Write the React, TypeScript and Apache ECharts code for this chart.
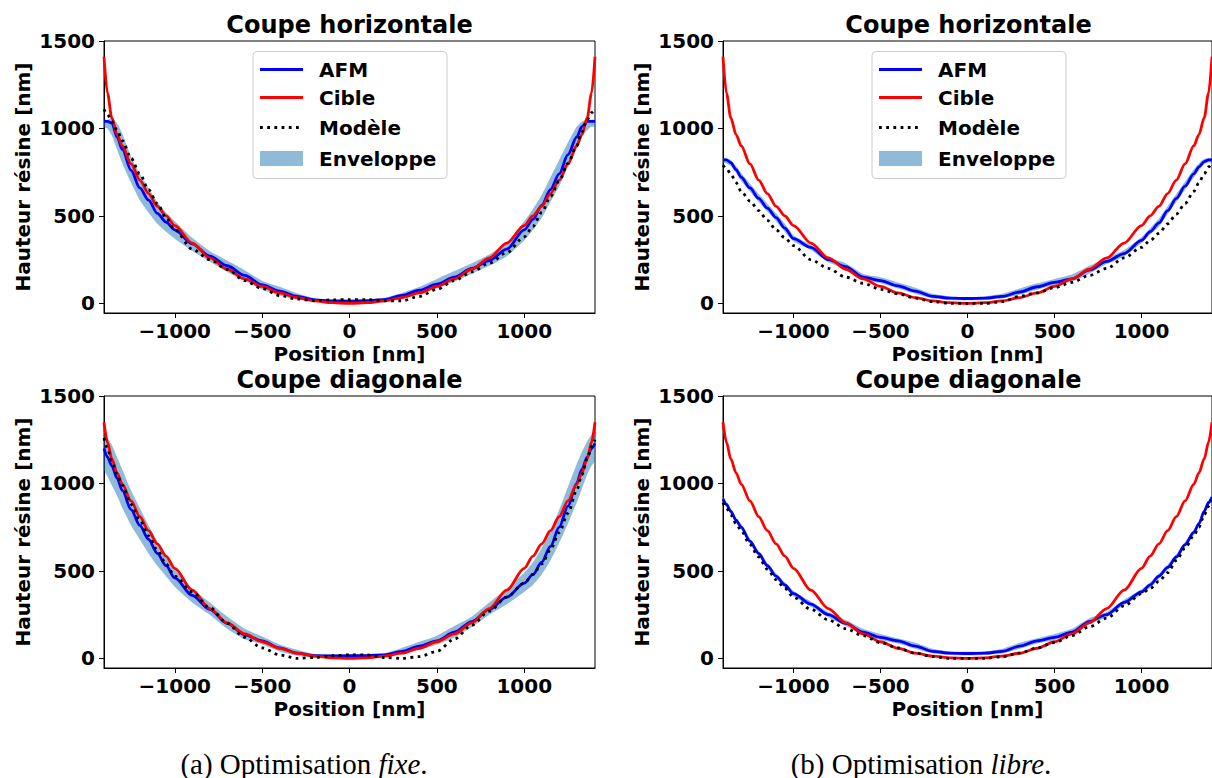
import React, { useEffect, useRef } from "react";
import * as echarts from "echarts";

// Positions along the cut [nm]
const X = [-1405, -1385, -1360, -1330, -1300, -1250, -1200, -1150, -1100, -1050, -1000, -900, -800, -700, -600, -500, -400, -300, -200, -100, 0, 100, 200, 300, 400, 500, 600, 700, 800, 900, 1000, 1050, 1100, 1150, 1200, 1250, 1300, 1330, 1360, 1385, 1405];

// Target profiles
const CIBLE_H = [1410, 1200, 1060, 965, 900, 797, 705, 628, 555, 500, 445, 345, 260, 195, 140, 97, 60, 33, 14, 4, 0, 4, 14, 33, 60, 97, 140, 195, 260, 345, 445, 500, 555, 628, 705, 797, 900, 965, 1060, 1200, 1410];
const CIBLE_D = [1350, 1235, 1140, 1060, 995, 900, 810, 730, 655, 585, 515, 390, 285, 203, 140, 95, 58, 30, 13, 3, 0, 3, 13, 30, 58, 95, 140, 203, 285, 390, 515, 585, 655, 730, 810, 900, 995, 1060, 1140, 1235, 1350];

// (a) fixe, horizontal
const AFM_FIXE_H = [1040, 1040, 1030, 950, 880, 760, 660, 590, 515, 465, 420, 340, 270, 215, 160, 105, 70, 40, 20, 14, 13, 15, 22, 45, 75, 110, 150, 200, 245, 310, 420, 480, 560, 650, 740, 850, 950, 1010, 1040, 1040, 1040];
const MOD_FIXE_H = [1110, 1080, 1040, 990, 930, 830, 740, 650, 570, 490, 420, 310, 250, 195, 130, 85, 45, 25, 15, 20, 22, 22, 15, 15, 40, 80, 130, 180, 230, 290, 380, 440, 520, 610, 700, 800, 900, 980, 1050, 1090, 1110];
const ENV_LO_FIXE_H = [1010, 1000, 960, 880, 800, 690, 590, 520, 455, 410, 370, 300, 240, 180, 130, 80, 45, 22, 10, 8, 8, 8, 12, 28, 55, 85, 125, 170, 215, 270, 360, 420, 490, 580, 670, 780, 880, 950, 990, 1010, 1010];
const ENV_HI_FIXE_H = [1050, 1050, 1060, 1030, 970, 840, 740, 660, 580, 520, 470, 375, 300, 245, 190, 130, 95, 58, 30, 22, 20, 22, 32, 60, 95, 140, 185, 230, 280, 345, 470, 540, 620, 720, 820, 920, 1010, 1040, 1050, 1050, 1050];

// (b) libre, horizontal
const AFM_LIBRE_H = [820, 820, 805, 765, 720, 660, 600, 545, 490, 430, 370, 320, 250, 210, 150, 130, 100, 70, 40, 30, 28, 30, 40, 65, 95, 120, 140, 190, 240, 285, 360, 410, 460, 530, 600, 670, 740, 780, 810, 820, 820];
const MOD_LIBRE_H = [790, 770, 740, 690, 640, 585, 530, 475, 420, 375, 330, 250, 200, 150, 115, 80, 55, 30, 10, 0, 0, 0, 10, 40, 60, 90, 120, 160, 200, 260, 320, 360, 400, 455, 510, 570, 640, 690, 740, 780, 800];
const ENV_LO_LIBRE_H = [805, 800, 785, 745, 700, 640, 580, 525, 470, 410, 355, 305, 235, 195, 135, 115, 85, 55, 28, 20, 18, 20, 28, 50, 78, 105, 125, 170, 225, 270, 345, 395, 440, 510, 580, 650, 720, 760, 795, 805, 805];
const ENV_HI_LIBRE_H = [830, 830, 820, 785, 745, 685, 625, 570, 515, 455, 390, 335, 265, 230, 170, 150, 120, 90, 55, 40, 36, 40, 55, 85, 115, 140, 165, 215, 260, 305, 380, 430, 485, 555, 625, 695, 765, 800, 825, 830, 830];

// (a) fixe, diagonal
const AFM_FIXE_D = [1200, 1150, 1100, 1030, 960, 850, 760, 680, 600, 530, 460, 360, 280, 200, 135, 100, 60, 30, 15, 14, 15, 16, 20, 40, 70, 100, 150, 210, 280, 350, 430, 480, 550, 640, 750, 870, 1000, 1080, 1150, 1200, 1230];
const MOD_FIXE_D = [1260, 1200, 1130, 1050, 990, 880, 790, 700, 620, 540, 470, 380, 290, 200, 120, 60, 20, 0, 5, 15, 20, 20, 5, 0, 10, 40, 110, 190, 270, 350, 430, 480, 540, 620, 720, 830, 960, 1050, 1140, 1210, 1250];
const ENV_LO_FIXE_D = [1080, 1040, 990, 930, 860, 760, 680, 600, 530, 470, 410, 320, 250, 170, 110, 80, 40, 15, 5, 5, 5, 8, 12, 25, 50, 80, 120, 180, 250, 310, 380, 420, 480, 560, 660, 770, 890, 970, 1050, 1100, 1130];
const ENV_HI_FIXE_D = [1280, 1260, 1220, 1150, 1080, 960, 860, 760, 670, 590, 510, 400, 320, 240, 170, 125, 80, 50, 25, 22, 22, 24, 30, 60, 95, 130, 185, 240, 320, 400, 490, 550, 630, 730, 850, 980, 1110, 1180, 1240, 1280, 1300];

// (b) libre, diagonal
const AFM_LIBRE_D = [910, 880, 840, 790, 750, 670, 600, 530, 470, 420, 370, 310, 250, 200, 150, 120, 100, 70, 40, 30, 28, 30, 40, 70, 100, 120, 150, 210, 250, 320, 380, 420, 470, 520, 580, 650, 720, 770, 840, 890, 920];
const MOD_LIBRE_D = [890, 860, 820, 770, 730, 650, 580, 510, 450, 400, 350, 280, 220, 170, 130, 90, 60, 30, 10, 0, 0, 0, 10, 30, 60, 90, 130, 180, 230, 300, 370, 400, 440, 490, 560, 630, 700, 750, 820, 870, 900];
const ENV_LO_LIBRE_D = [895, 865, 825, 775, 735, 655, 585, 515, 455, 405, 355, 295, 235, 185, 135, 105, 85, 55, 28, 20, 18, 20, 28, 55, 85, 105, 135, 195, 235, 305, 365, 405, 455, 505, 565, 635, 705, 755, 825, 875, 905];
const ENV_HI_LIBRE_D = [925, 895, 855, 805, 765, 685, 615, 545, 485, 435, 385, 325, 265, 220, 170, 140, 115, 90, 55, 40, 38, 40, 55, 90, 115, 140, 170, 230, 265, 335, 395, 435, 485, 535, 595, 665, 735, 785, 855, 905, 935];

const X_TICKS = [-1000, -500, 0, 500, 1000];
const Y_TICKS = [0, 500, 1000, 1500];
const TITLES = ["Coupe horizontale", "Coupe horizontale", "Coupe diagonale", "Coupe diagonale"];
const LEGEND_LABELS = ["AFM", "Cible", "Modèle", "Enveloppe"];
const X_NAME = "Position [nm]";
const Y_NAME = "Hauteur résine [nm]";

const FONT = "DejaVu Sans";
const BLUE = "#0000ff";
const RED = "#ff0000";
const BAND = "rgba(31,119,180,0.5)";

const PANELS = [
  { left: 104, top: 41, afm: AFM_FIXE_H, cible: CIBLE_H, mod: MOD_FIXE_H, lo: ENV_LO_FIXE_H, hi: ENV_HI_FIXE_H, legend: true },
  { left: 723, top: 41, afm: AFM_LIBRE_H, cible: CIBLE_H, mod: MOD_LIBRE_H, lo: ENV_LO_LIBRE_H, hi: ENV_HI_LIBRE_H, legend: true },
  { left: 104, top: 396, afm: AFM_FIXE_D, cible: CIBLE_D, mod: MOD_FIXE_D, lo: ENV_LO_FIXE_D, hi: ENV_HI_FIXE_D, legend: false },
  { left: 723, top: 396, afm: AFM_LIBRE_D, cible: CIBLE_D, mod: MOD_LIBRE_D, lo: ENV_LO_LIBRE_D, hi: ENV_HI_LIBRE_D, legend: false },
];
const PW = 491;
const PH = 272;

const fmtMinus = (v: number) => (v < 0 ? "\u2212" + Math.abs(v) : String(v));

function buildOption() {
  const grid: any[] = [];
  const xAxis: any[] = [];
  const yAxis: any[] = [];
  const series: any[] = [];
  const title: any[] = [];
  const graphic: any[] = [];

  PANELS.forEach((p, i) => {
    grid.push({
      left: p.left,
      top: p.top,
      width: PW,
      height: PH,
      show: true,
      borderColor: "#000",
      borderWidth: 1,
      backgroundColor: "transparent",
    });
    xAxis.push({
      type: "value",
      gridIndex: i,
      min: -1405,
      max: 1405,
      name: X_NAME,
      nameLocation: "middle",
      nameGap: 31,
      nameTextStyle: { fontFamily: FONT, fontWeight: "bold", fontSize: 20, color: "#000" },
      axisLine: { show: true, onZero: false, lineStyle: { color: "#000", width: 1 } },
      axisTick: { show: true, inside: false, length: 5, customValues: X_TICKS, lineStyle: { color: "#000", width: 1 } },
      axisLabel: {
        customValues: X_TICKS,
        formatter: fmtMinus,
        margin: 8,
        fontFamily: FONT,
        fontWeight: "bold",
        fontSize: 20,
        color: "#000",
      },
      splitLine: { show: false },
    });
    yAxis.push({
      type: "value",
      gridIndex: i,
      min: -55,
      max: 1500,
      name: Y_NAME,
      nameLocation: "middle",
      nameGap: 71,
      nameTextStyle: { fontFamily: FONT, fontWeight: "bold", fontSize: 20, color: "#000" },
      axisLine: { show: true, onZero: false, lineStyle: { color: "#000", width: 1 } },
      axisTick: { show: true, inside: false, length: 5, customValues: Y_TICKS, lineStyle: { color: "#000", width: 1 } },
      axisLabel: {
        customValues: Y_TICKS,
        formatter: (v: number) => String(v),
        margin: 9,
        fontFamily: FONT,
        fontWeight: "bold",
        fontSize: 20,
        color: "#000",
      },
      splitLine: { show: false },
    });

    const lo = p.lo;
    const hi = p.hi;
    series.push({
      type: "custom",
      name: LEGEND_LABELS[3],
      xAxisIndex: i,
      yAxisIndex: i,
      clip: true,
      silent: true,
      data: [[0, 0]],
      renderItem: (params: any, api: any) => {
        if (params.dataIndex !== 0) return null;
        const pts: number[][] = [];
        for (let j = 0; j < X.length; j++) pts.push(api.coord([X[j], hi[j]]));
        for (let j = X.length - 1; j >= 0; j--) pts.push(api.coord([X[j], lo[j]]));
        return { type: "polygon", shape: { points: pts, smooth: 0.2 }, style: { fill: BAND } };
      },
      z: 1,
    });
    const line = (name: string, arr: number[], color: string, type: any, z: number) => ({
      type: "line",
      name,
      xAxisIndex: i,
      yAxisIndex: i,
      data: X.map((x, j) => [x, arr[j]]),
      showSymbol: false,
      symbol: "none",
      smooth: 0.3,
      smoothMonotone: "x",
      clip: true,
      lineStyle: { color, width: 2.8, type, cap: "butt" },
      z,
    });
    series.push(line(LEGEND_LABELS[0], p.afm, BLUE, "solid", 2));
    series.push(line(LEGEND_LABELS[1], p.cible, RED, "solid", 3));
    series.push(line(LEGEND_LABELS[2], p.mod, "#000", [2.8, 4.4], 4));

    title.push({
      text: TITLES[i],
      left: p.left + PW / 2,
      top: p.top - 28,
      textAlign: "center",
      padding: 0,
      textStyle: { fontFamily: FONT, fontWeight: "bold", fontSize: 24, color: "#000" },
    });

    if (p.legend) {
      const lx = p.left + PW / 2 - 97;
      const ly = p.top + 10;
      const rows = [18, 46, 76, 107];
      const children: any[] = [
        {
          type: "rect",
          shape: { x: 0, y: 0, width: 194, height: 127, r: 4 },
          style: { fill: "rgba(255,255,255,0.8)", stroke: "#cccccc", lineWidth: 1 },
        },
        { type: "line", shape: { x1: 7, y1: rows[0], x2: 50, y2: rows[0] }, style: { stroke: BLUE, lineWidth: 2.8 } },
        { type: "line", shape: { x1: 7, y1: rows[1], x2: 50, y2: rows[1] }, style: { stroke: RED, lineWidth: 2.8 } },
        { type: "line", shape: { x1: 7, y1: rows[2], x2: 50, y2: rows[2] }, style: { stroke: "#000", lineWidth: 2.8, lineDash: [2.8, 4.4] } },
        { type: "rect", shape: { x: 7, y: rows[3] - 7.5, width: 43, height: 15 }, style: { fill: BAND } },
      ];
      LEGEND_LABELS.forEach((t, k) => {
        children.push({
          type: "text",
          x: 66,
          y: rows[k],
          style: { text: t, fontFamily: FONT, fontWeight: "bold", fontSize: 20, fill: "#000", textVerticalAlign: "middle", textAlign: "left" },
        });
      });
      graphic.push({ type: "group", left: lx, top: ly, z: 100, children });
    }
  });

  const capStyle = {
    fontFamily: "Liberation Serif",
    fontWeight: "normal",
    fontSize: 29,
    color: "#000",
    rich: { i: { fontFamily: "Liberation Serif", fontStyle: "italic", fontSize: 29, color: "#000" } },
  };
  title.push({ text: "(a) Optimisation {i|fixe}.", left: 304, top: 749, textAlign: "center", padding: 0, textStyle: capStyle });
  title.push({ text: "(b) Optimisation {i|libre}.", left: 921, top: 749, textAlign: "center", padding: 0, textStyle: capStyle });

  return { animation: false, backgroundColor: "#fff", grid, xAxis, yAxis, series, title, graphic };
}

export default function App() {
  const ref = useRef<HTMLDivElement>(null);
  useEffect(() => {
    if (!ref.current) return;
    const chart = echarts.init(ref.current, undefined, { renderer: "svg" });
    chart.setOption(buildOption() as any);
    return () => chart.dispose();
  }, []);
  return (
    <div style={{ position: "fixed", left: 0, top: 0, width: 1212, height: 778, overflow: "hidden", background: "#fff" }}>
      <div ref={ref} style={{ width: 1212, height: 778 }} />
    </div>
  );
}
